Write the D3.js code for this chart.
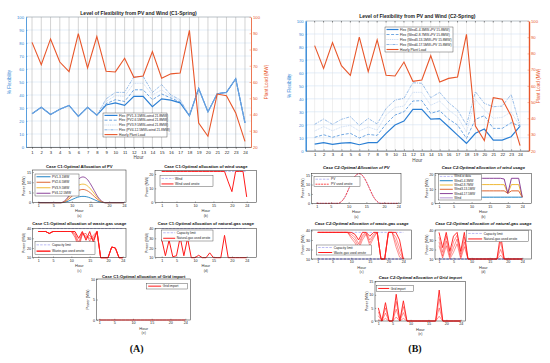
<!DOCTYPE html>
<html>
<head>
<meta charset="utf-8">
<script src="https://cdn.jsdelivr.net/npm/d3@7"></script>
<style>
body { margin: 0; background: #fff; }
svg { display: block; font-family: "Liberation Sans", Arial, sans-serif; }
</style>
</head>
<body>
<svg width="550" height="363"></svg>
<script>
// ---- data ----
const hours = [1,2,3,4,5,6,7,8,9,10,11,12,13,14,15,16,17,18,19,20,21,22,23,24];
const hourTicks = [1,5,10,15,20,24];
const flexTicks = [0,10,20,30,40,50,60,70,80,90,100];
const loadTicks = [20,30,40,50,60,70,80,90,100];

// C1 flexibility (% ) and plant load (MW)
const flexC1_pv1 = [25.6,30.5,25,29,32,23.6,30.5,24.4,32.3,34,32,39,39,31,37,36,34,24,45,27,41,42,52.5,18.5];
const flexC1_pv2 = [25.6,30.5,25,29,32,23.6,30.5,24.4,33.3,36.4,35,44,44,36.4,40.8,37.7,34.6,24,45,27,41,42,52.5,18.5];
const flexC1_pv3 = [25.6,30.5,25,29,32,23.6,30.5,24.4,35,39.5,39,49,49,40,44,39,35.6,24,45,27,41,42,52.5,18.5];
const flexC1_pv4 = [25.6,30.5,25,29,32,23.6,30.5,24.4,37,42,42,54,54.4,42,48,40,36.4,24,45,27,41,42,52.5,18.5];
const loadC1 = [84.4,70.7,86.5,72.3,66.4,89.7,68.6,88,66.6,66.2,74.6,62.9,63.7,78.7,62.3,65,65.5,91.8,34.8,26.6,52.6,51.6,41,23.5];

// C2 flexibility and plant load
const flexC2_w1 = [5.1,6.2,4.9,5.9,6.2,4.6,6.2,6.2,13.4,19.8,22.9,31.9,31.9,24.4,24.7,18.5,12,5.7,13.4,16.7,8.2,8.2,10.8,19];
const flexC2_w2 = [10.3,12.3,10.3,12.3,13.4,9.8,12.6,11.8,20.6,27.5,30,38.3,38.6,28.8,30.8,24.4,19.8,9.5,24.2,27,17.2,17.2,21.6,19];
const flexC2_w3 = [15.2,18.5,15.4,18.3,19.5,15.2,18.3,15.9,27.5,33.4,34.4,45,45,35,38.3,31.4,26.2,14.4,39.6,31.4,25,25.7,30,18.5];
const flexC2_w4 = [20.3,24.4,20.3,24.2,26.2,19.5,24.9,20.6,32.6,39,40.4,52.4,52,40.9,45,37,31.4,19.8,45.5,36.5,33.9,34.4,43.4,19];
const loadC2 = [84.8,70.8,86.7,72.5,66.5,90,68.8,88.3,66.5,66.1,74.7,62.8,63.6,78.6,62.4,64.6,65.5,91.8,35.2,26.2,52.7,51.7,41.4,23.1];

// C1 sub-panels (MW)
const pvC1_1 = [0,0,0,0,0,0,0,0.2,0.7,1.5,2.3,2.9,3.1,2.9,2.3,1.5,0.7,0.2,0,0,0,0,0,0];
const pvC1_2 = [0,0,0,0,0,0,0,0.4,1.5,3.1,4.8,6.1,6.5,6.0,4.8,3.1,1.5,0.4,0,0,0,0,0,0];
const pvC1_3 = [0,0,0,0,0,0,0,0.6,2.1,4.5,6.9,8.7,9.1,8.5,6.8,4.5,2.1,0.6,0,0,0,0,0,0];
const pvC1_4 = [0,0,0,0,0,0,0,0.8,2.8,6.0,9.3,11.8,12.6,11.7,9.2,6.0,2.8,0.8,0,0,0,0,0,0];
const windC1 = [21.8,21.8,21.8,21.8,21.8,21.8,21.8,21.8,21.8,21.8,21.8,21.8,21.8,21.8,21.8,21.8,21.8,21.8,21.8,21.8,21.8,21.8,21.8,21.8];
const windUsedC1 = [21.8,21.8,21.8,21.8,21.8,21.8,21.8,21.8,21.8,21.8,21.8,21.8,21.8,21.8,21.8,21.8,21.8,21.8,14.5,7.7,21.8,21.8,21.8,4];
const wasteCapC1 = [40,40,40,40,40,40,40,40,40,40,40,40,40,40,40,40,40,40,40,40,40,40,40,40];
const wasteC1_1 = [37,37,37,35,37,37,37,37,37,37,37,30,37,28,37,26,37,10,10,10,21,20,10,10];
const wasteC1_2 = [37,37,37,35,37,37,37,37,37,37,35,26,36,30,33,28,37,10,10,10,21,20,10,10];
const wasteC1_3 = [37,37,37,35,37,37,37,37,37,37,33,23,35,32,30,30,37,10,10,10,21,20,10,10];
const wasteC1_4 = [37,37,37,35,37,37,37,37,37,37,31,20,34,35,27,33,37,10,10,10,21,20,10,10];
const gasCapC1 = [40,40,40,40,40,40,40,40,40,40,40,40,40,40,40,40,40,40,40,40,40,40,40,40];
const gasC1 = [29,12,28,11,12,31,12,30,10,10,12.5,10,10,15,10,10,10,33,10,10,10,10,10,10];
const gridC1 = [0,0,0,0,0,0,0,0,0,0,0,0,0,0,0,0,0,0,0,0,0,0,0,0];

// C2 sub-panels (MW)
const pvC2 = [0,0,0,0,0,0,0,1.0,3.5,7.6,11.8,14.9,15.8,14.6,11.5,7.4,3.5,1.0,0,0,0,0,0,0];
const pvUsedC2 = [0,0,0,0,0,0,0,1.0,3.5,7.6,11.8,14.9,15.8,14.6,11.5,7.4,3.5,1.0,0,0,0,0,0,0];
const windC2_1 = [4.3,4.3,4.3,4.3,4.3,4.3,4.3,4.3,4.3,4.3,4.3,4.3,4.3,4.3,4.3,4.3,4.3,4.3,4.3,4.3,4.3,4.3,4.3,4.3];
const windC2_2 = [8.7,8.7,8.7,8.7,8.7,8.7,8.7,8.7,8.7,8.7,8.7,8.7,8.7,8.7,8.7,8.7,8.7,8.7,8.7,7,8.7,8.7,8.7,4.3];
const windC2_3 = [13.1,13.1,13.1,13.1,13.1,13.1,13.1,13.1,13.1,13.1,13.1,13.1,13.1,13.1,13.1,13.1,13.1,13.1,13,7,13.1,13.1,13.1,4.3];
const windC2_4 = [17.5,17.5,17.5,17.5,17.5,17.5,17.5,17.5,17.5,17.5,17.5,17.5,17.5,17.5,17.5,17.5,17.5,17.5,17,7,17.5,17.5,17.5,4.3];
const wasteCapC2 = [38,38,38,38,38,38,38,38,38,38,38,38,38,38,38,38,38,38,38,38,38,38,38,38];
const wasteMinC2 = [10,10,10,10,10,10,10,10,10,10,10,10,10,10,10,10,10,10,10,10,10,10,10,10];
const wasteC2_1 = [38,38,38,38,38,38,38,38,38,38,36,30,38,38,34,38,38,10,10,38,38,38,30,10];
const wasteC2_2 = [38,38,38,38,38,38,38,38,38,36,33,26,35,38,30,36,38,10,10,38,38,33,22,10];
const wasteC2_3 = [38,38,38,38,38,38,38,38,38,34,30,23,33,37,27,34,38,10,10,38,38,28,16,10];
const wasteC2_4 = [38,38,38,38,38,38,38,38,38,32,27,20,30,36,24,32,38,10,10,38,38,23,12,10];
const gasC2_1 = [38,22,38,18,34,38,18,38,10,10,10,10,10,10,10,10,10,36,10,10,10,10,10,10];
const gasC2_2 = [33,17,34,14,28,35,15,33,10,10,10,10,10,10,10,10,10,28,10,10,10,10,10,10];
const gasC2_3 = [28,13,29,12,22,31,12,28,10,10,10,10,10,10,10,10,10,20,10,10,10,10,10,10];
const gasC2_4 = [24,11,24,10,17,26,10,23,10,10,10,10,10,10,10,10,10,14,10,10,10,10,10,10];
const gridC2_1 = [5,0,7,0,0,10.2,0,7.7,0,0,0,0,0,0,0,0,0,11.8,0,0,0,0,0,0];
const gridC2_2 = [3.5,0,5,0,0,7.5,0,5.5,0,0,0,0,0,0,0,0,0,8.5,0,0,0,0,0,0];
const gridC2_3 = [2,0,3,0,0,4.5,0,3.2,0,0,0,0,0,0,0,0,0,5,0,0,0,0,0,0];
const gridC2_4 = [0.5,0,1,0,0,1.5,0,1,0,0,0,0,0,0,0,0,0,1.8,0,0,0,0,0,0];

// ---- colours ----
const BLUE = '#2f86d6', ORANGE = '#e8562a', RED = '#ff1a1a', LAV = '#a9a9f0';
const C_BLUE = '#0072bd', C_ORANGE = '#d95319', C_YELLOW = '#edb120', C_PURPLE = '#7e2f8e';

const svg = d3.select('svg');

function legend(g, L) {
  g.append('rect').attr('x', L.x).attr('y', L.y).attr('width', L.w).attr('height', L.h)
    .attr('fill', '#fff').attr('stroke', '#333').attr('stroke-width', 0.4);
  const rh = L.h / L.items.length;
  L.items.forEach((it, i) => {
    const cy = L.y + rh * (i + 0.5);
    g.append('line').attr('x1', L.x + 1.5).attr('x2', L.x + 1.5 + L.len).attr('y1', cy).attr('y2', cy)
      .attr('stroke', it.color).attr('stroke-width', it.width || 0.8).attr('stroke-dasharray', it.dash || null);
    g.append('text').attr('x', L.x + 3 + L.len).attr('y', cy).attr('dy', '0.35em')
      .attr('font-size', L.fs).attr('fill', '#222').text(it.label);
  });
}

function styleAxis(a, fs, col) {
  a.attr('font-size', null).attr('font-family', null);
  a.selectAll('text').attr('font-size', fs).attr('fill', col);
  a.selectAll('line').attr('stroke', col).attr('stroke-width', 0.4);
}

// ---- big flexibility charts ----
function mainChart(o) {
  const g = svg.append('g');
  const x = d3.scaleLinear().domain(o.xd).range([o.l, o.r]);
  const yL = d3.scaleLinear().domain([0, 100]).range([o.b, o.t]);
  const yR = d3.scaleLinear().domain([20, 100]).range([o.b, o.t]);

  g.selectAll('.hg').data(flexTicks).join('line')
    .attr('x1', o.l).attr('x2', o.r).attr('y1', d => yL(d)).attr('y2', d => yL(d))
    .attr('stroke', '#c9ddf2').attr('stroke-width', 0.5);
  g.selectAll('.vg').data(hours).join('line')
    .attr('x1', d => x(d)).attr('x2', d => x(d)).attr('y1', o.t).attr('y2', o.b)
    .attr('stroke', o.vgrid).attr('stroke-width', 0.5);
  g.append('line').attr('x1', o.l).attr('x2', o.r).attr('y1', o.t).attr('y2', o.t).attr('stroke', '#999').attr('stroke-width', 0.5);

  const line = ys => d3.line().x((d, i) => x(hours[i])).y(d => ys(d));
  o.flex.forEach(s => {
    g.append('path').datum(s.data).attr('d', line(yL)).attr('fill', 'none')
      .attr('stroke', s.color).attr('stroke-width', s.width).attr('stroke-dasharray', s.dash || null);
  });
  g.append('path').datum(o.load).attr('d', line(yR)).attr('fill', 'none')
    .attr('stroke', ORANGE).attr('stroke-width', 1.1);

  const ax = g.append('g').attr('transform', `translate(0,${o.b})`)
    .call(d3.axisBottom(x).tickValues(hours).tickSizeInner(o.tickIn ? -1.5 : 2).tickSizeOuter(0).tickPadding(2.5));
  ax.select('.domain').attr('stroke', '#222').attr('stroke-width', 0.6);
  styleAxis(ax, 4.2, '#222');
  if (o.topTicks) {
    g.selectAll('.tt').data(hours).join('line')
      .attr('x1', d => x(d)).attr('x2', d => x(d)).attr('y1', o.t).attr('y2', o.t + 1.5)
      .attr('stroke', '#222').attr('stroke-width', 0.5);
  }
  const al = g.append('g').attr('transform', `translate(${o.l},0)`)
    .call(d3.axisLeft(yL).tickValues(flexTicks).tickSizeInner(-1.5).tickSizeOuter(0).tickPadding(2));
  al.select('.domain').attr('stroke', BLUE).attr('stroke-width', o.axisW);
  styleAxis(al, 4.2, BLUE);
  const ar = g.append('g').attr('transform', `translate(${o.r},0)`)
    .call(d3.axisRight(yR).tickValues(loadTicks).tickSizeInner(-1.5).tickSizeOuter(0).tickPadding(2));
  ar.select('.domain').attr('stroke', ORANGE).attr('stroke-width', o.axisW);
  styleAxis(ar, 4.2, ORANGE);

  g.append('text').attr('x', (o.l + o.r) / 2).attr('y', o.titleY).attr('text-anchor', 'middle')
    .attr('font-size', 5).attr('font-weight', 'bold').attr('fill', '#222').text(o.title);
  g.append('text').attr('transform', `translate(${o.lblL},${(o.t + o.b) / 2}) rotate(-90)`)
    .attr('text-anchor', 'middle').attr('font-size', 4.6).attr('fill', BLUE).text('% Flexibility');
  g.append('text').attr('transform', `translate(${o.lblR},${(o.t + o.b) / 2}) rotate(-90)`)
    .attr('text-anchor', 'middle').attr('font-size', 4.6).attr('fill', ORANGE).text('Plant Load (MW)');
  g.append('text').attr('x', (o.l + o.r) / 2).attr('y', o.hourY).attr('text-anchor', 'middle')
    .attr('font-size', 4.6).attr('fill', '#444').text('Hour');
  legend(g, o.legend);
}

const flexStyles = [
  { color: '#2b7fd4', width: 1.2, dash: null },
  { color: '#4f93dc', width: 0.8, dash: '3,1.6' },
  { color: '#b3cdef', width: 0.7, dash: '1,0.8' },
  { color: '#6ea2de', width: 0.7, dash: '3,1,1,1' }
];

mainChart({
  l: 26, r: 251, t: 17, b: 147, xd: [0.35, 24.65], vgrid: '#a8a8a8', axisW: 0.8, tickIn: false,
  title: 'Level of Flexibility from PV and Wind (C1-Spring)', titleY: 14.5, lblL: 11, lblR: 268, hourY: 158.5,
  flex: [flexC1_pv1, flexC1_pv2, flexC1_pv3, flexC1_pv4].map((d, i) => Object.assign({ data: d }, flexStyles[i])),
  load: loadC1,
  legend: { x: 103, y: 113, w: 64, h: 24, len: 13, fs: 3.3, items: [
    { label: 'Flex (PV1-3.1MW+wind 21.8MW)', color: '#2b7fd4', width: 1.2 },
    { label: 'Flex (PV2-6.5MW+wind 21.8MW)', color: '#4f93dc', dash: '3,1.6' },
    { label: 'Flex (PV3-9.5MW+wind 21.8MW)', color: '#b3cdef', dash: '1,0.8' },
    { label: 'Flex (PV4-12.5MW+wind 21.8MW)', color: '#6ea2de', dash: '3,1,1,1' },
    { label: 'Hourly Plant Load', color: ORANGE, width: 1.1 }
  ] }
});

mainChart({
  l: 305.7, r: 529, t: 21, b: 150.7, xd: [0, 25], vgrid: '#dedede', axisW: 1.4, tickIn: true, topTicks: true,
  title: 'Level of Flexibility from PV and Wind (C2-Spring)', titleY: 18, lblL: 291, lblR: 540, hourY: 161.5,
  flex: [flexC2_w1, flexC2_w2, flexC2_w3, flexC2_w4].map((d, i) => Object.assign({ data: d }, flexStyles[i])),
  load: loadC2,
  legend: { x: 385, y: 27, w: 68, h: 25, len: 12, fs: 3.3, items: [
    { label: 'Flex (Wind1-4.3MW+PV 15.8MW)', color: '#2b7fd4', width: 1.2 },
    { label: 'Flex (Wind2-8.7MW+PV 15.8MW)', color: '#4f93dc', dash: '3,1.6' },
    { label: 'Flex (Wind3-13.1MW+PV 15.8MW)', color: '#b3cdef', dash: '1,0.8' },
    { label: 'Flex (Wind4-17.5MW+PV 15.8MW)', color: '#6ea2de', dash: '3,1,1,1' },
    { label: 'Hourly Plant Load', color: ORANGE, width: 1.1 }
  ] }
});

// ---- small allocation panels ----
function subplot(p) {
  const g = svg.append('g');
  const x = d3.scaleLinear().domain([1, 24]).range([p.h1, p.h24]);
  const y = d3.scaleLinear().domain(p.yd).range([p.y1, p.y0]);

  const ax = g.append('g').attr('transform', `translate(0,${p.y1})`)
    .call(d3.axisBottom(x).tickValues(hourTicks).tickSizeInner(-1.2).tickSizeOuter(0).tickPadding(1.6));
  ax.select('.domain').remove();
  styleAxis(ax, 3.7, '#222');
  const ay = g.append('g').attr('transform', `translate(${p.x0},0)`)
    .call(d3.axisLeft(y).tickValues(p.yt).tickSizeInner(-1.2).tickSizeOuter(0).tickPadding(1.6));
  ay.select('.domain').remove();
  styleAxis(ay, 3.7, '#222');

  p.series.forEach(s => {
    g.append('path').datum(s.data)
      .attr('d', d3.line().x((d, i) => x(hours[i])).y(d => y(d)).curve(s.curve || d3.curveLinear))
      .attr('fill', 'none').attr('stroke', s.color).attr('stroke-width', s.width || 0.8)
      .attr('stroke-dasharray', s.dash || null).attr('stroke-opacity', s.op || 1);
  });

  g.append('rect').attr('x', p.x0).attr('y', p.y0).attr('width', p.x1 - p.x0).attr('height', p.y1 - p.y0)
    .attr('fill', 'none').attr('stroke', '#222').attr('stroke-width', 0.5);
  g.append('text').attr('x', (p.x0 + p.x1) / 2).attr('y', p.ty).attr('text-anchor', 'middle')
    .attr('font-size', 4.2).attr('font-weight', 'bold').attr('font-style', p.italic ? 'italic' : null)
    .attr('fill', '#111').text(p.title);
  g.append('text').attr('transform', `translate(${p.x0 - 7.5},${(p.y0 + p.y1) / 2}) rotate(-90)`)
    .attr('text-anchor', 'middle').attr('font-size', 3.6).attr('fill', '#333').text('Power (MW)');
  g.append('text').attr('x', (p.x0 + p.x1) / 2).attr('y', p.y1 + 9.5).attr('text-anchor', 'middle')
    .attr('font-size', 4).attr('fill', '#333').text('Hour');
  g.append('text').attr('x', (p.x0 + p.x1) / 2).attr('y', p.y1 + 14.2).attr('text-anchor', 'middle')
    .attr('font-size', 3.6).attr('fill', '#444').text(p.tag);
  if (p.legend) legend(g, p.legend);
}

const smooth = d3.curveMonotoneX;

// Case C1
subplot({
  x0: 32.7, x1: 126, y0: 170, y1: 202.7, h1: 38.3, h24: 124, yd: [0, 16], yt: [0, 5, 10, 15], ty: 167.5,
  title: 'Case C1:Optimal Allocation of PV', tag: '(a)',
  series: [
    { data: pvC1_1, color: C_BLUE, curve: smooth },
    { data: pvC1_2, color: C_ORANGE, curve: smooth },
    { data: pvC1_3, color: C_YELLOW, curve: smooth },
    { data: pvC1_4, color: C_PURPLE, curve: smooth }
  ],
  legend: { x: 35, y: 174, w: 44, h: 22, len: 14, fs: 3.2, items: [
    { label: 'PV1-3.1MW', color: C_BLUE, width: 0.9 }, { label: 'PV2-6.5MW', color: C_ORANGE, width: 0.9 },
    { label: 'PV3-9.5MW', color: C_YELLOW, width: 0.9 }, { label: 'PV4-12.5MW', color: C_PURPLE, width: 0.9 }
  ] }
});
subplot({
  x0: 155, x1: 256.7, y0: 170.7, y1: 202.7, h1: 161.7, h24: 246.7, yd: [0, 22.3], yt: [0, 10, 20], ty: 167.5,
  title: 'Case C1:Optimal allocation of wind usage', tag: '(b)',
  series: [
    { data: windC1, color: LAV, dash: '2.5,1.2', width: 0.8 },
    { data: windUsedC1, color: RED, width: 1 }
  ],
  legend: { x: 160, y: 175.7, w: 53, h: 11, len: 12, fs: 3.2, items: [
    { label: 'Wind', color: LAV, dash: '2.5,1.2' }, { label: 'Wind used onsite', color: RED, width: 1 }
  ] }
});
subplot({
  x0: 32.7, x1: 126, y0: 228.3, y1: 257.7, h1: 38.3, h24: 122.7, yd: [10, 40.3], yt: [10, 20, 30, 40], ty: 224.5,
  title: 'Case C1:Optimal allocation of waste-gas usage', tag: '(c)',
  series: [
    { data: wasteCapC1, color: LAV, dash: '2.5,1.2' },
    { data: wasteC1_4, color: RED, width: 0.7, op: 0.8 },
    { data: wasteC1_3, color: RED, width: 0.7, op: 0.8 },
    { data: wasteC1_2, color: RED, width: 0.7, op: 0.8 },
    { data: wasteC1_1, color: RED, width: 1 }
  ],
  legend: { x: 35, y: 241.7, w: 60, h: 12.6, len: 14, fs: 3.2, items: [
    { label: 'Capacity limit', color: LAV, dash: '2.5,1.2' }, { label: 'Waste-gas used onsite', color: RED, width: 1.4 }
  ] }
});
subplot({
  x0: 155, x1: 256.7, y0: 228.3, y1: 257.7, h1: 161.7, h24: 246.7, yd: [10, 40.3], yt: [10, 20, 30, 40], ty: 224.5,
  title: 'Case C1:Optimal allocation of natural-gas usage', tag: '(d)',
  series: [
    { data: gasCapC1, color: LAV, dash: '2.5,1.2' },
    { data: gasC1, color: RED, width: 1 }
  ],
  legend: { x: 161.7, y: 230, w: 51.3, h: 11, len: 12, fs: 3.2, items: [
    { label: 'Capacity limit', color: LAV, dash: '2.5,1.2' }, { label: 'Natural-gas used onsite', color: RED, width: 1 }
  ] }
});
subplot({
  x0: 96.7, x1: 190.7, y0: 279, y1: 320, h1: 99.3, h24: 185.3, yd: [0, 10], yt: [0, 5, 10], ty: 277.5,
  title: 'Case C1:Optimal allocation of Grid import', tag: '(e)',
  series: [{ data: gridC1, color: RED, width: 1 }],
  legend: { x: 146.7, y: 283.3, w: 40.6, h: 5.7, len: 13, fs: 3.2, items: [
    { label: 'Grid import', color: RED, width: 1 }
  ] }
});

// Case C2
subplot({
  x0: 311.7, x1: 401, y0: 173.3, y1: 203.3, h1: 316.7, h24: 398.3, yd: [0, 16], yt: [0, 5, 10, 15], ty: 168.5, italic: true,
  title: 'Case C2:Optimal Allocation of PV', tag: '(a)',
  series: [
    { data: pvC2, color: LAV, dash: '2.5,1.2', curve: smooth },
    { data: pvUsedC2, color: RED, dash: '2,0.8', width: 0.8, curve: smooth }
  ],
  legend: { x: 314, y: 176.7, w: 46, h: 10, len: 14, fs: 3.2, items: [
    { label: 'PV', color: LAV, dash: '2.5,1.2' }, { label: 'PV used onsite', color: RED, dash: '2,0.8' }
  ] }
});
subplot({
  x0: 435, x1: 531.7, y0: 173.3, y1: 203.3, h1: 439, h24: 522.3, yd: [0, 21], yt: [0, 10, 20], ty: 168.5, italic: true,
  title: 'Case C2:Optimal allocation of wind usage', tag: '(b)',
  series: [
    { data: windC2_1, color: C_BLUE, width: 0.9 },
    { data: windC2_2, color: C_ORANGE, width: 0.9 },
    { data: windC2_3, color: C_YELLOW, width: 0.9 },
    { data: windC2_4, color: C_PURPLE, width: 0.9 }
  ],
  legend: { x: 438.3, y: 174.3, w: 43.4, h: 25.7, len: 13, fs: 3, items: [
    { label: 'Wind-w data', color: LAV, dash: '2.5,1.2' },
    { label: 'Wind1-4.3MW', color: C_BLUE, width: 0.9 },
    { label: 'Wind2-8.7MW', color: C_YELLOW, width: 0.9 },
    { label: 'Wind3-13.1MW', color: C_ORANGE, width: 0.9 },
    { label: 'Wind4-17.5MW', color: C_PURPLE, width: 0.9 },
    { label: 'Wind', color: '#b08ad0', width: 0.9 }
  ] }
});
subplot({
  x0: 311.7, x1: 411.7, y0: 230, y1: 259, h1: 317.7, h24: 403.3, yd: [10, 40.5], yt: [10, 20, 30, 40], ty: 225, italic: true,
  title: 'Case C2:Optimal allocation of waste-gas usage', tag: '(c)',
  series: [
    { data: wasteCapC2, color: LAV, dash: '2.5,1.2' },
    { data: wasteMinC2, color: '#4a4ae0', dash: '2.5,1.2' },
    { data: wasteC2_4, color: RED, width: 0.6, op: 0.8 },
    { data: wasteC2_3, color: RED, width: 0.6, op: 0.8 },
    { data: wasteC2_2, color: RED, width: 0.6, op: 0.8 },
    { data: wasteC2_1, color: RED, width: 0.9 }
  ],
  legend: { x: 316.7, y: 245, w: 55, h: 10, len: 14, fs: 3.2, items: [
    { label: 'Capacity limit', color: LAV, dash: '2.5,1.2' }, { label: 'Waste-gas used onsite', color: RED, width: 1 }
  ] }
});
subplot({
  x0: 435, x1: 531.7, y0: 230, y1: 259, h1: 439, h24: 522.3, yd: [10, 40.5], yt: [10, 20, 30, 40], ty: 225, italic: true,
  title: 'Case C2:Optimal allocation of natural-gas usage', tag: '(d)',
  series: [
    { data: wasteMinC2, color: '#4a4ae0', dash: '2.5,1.2' },
    { data: gasC2_4, color: RED, width: 0.6, op: 0.8 },
    { data: gasC2_3, color: RED, width: 0.6, op: 0.8 },
    { data: gasC2_2, color: RED, width: 0.6, op: 0.8 },
    { data: gasC2_1, color: RED, width: 0.9 }
  ],
  legend: { x: 466.7, y: 230.7, w: 61.6, h: 11, len: 14, fs: 3.2, items: [
    { label: 'Capacity limit', color: LAV, dash: '2.5,1.2' }, { label: 'Natural-gas used onsite', color: RED, width: 1 }
  ] }
});
subplot({
  x0: 375, x1: 465.7, y0: 281.7, y1: 321, h1: 378.3, h24: 460.7, yd: [0, 15], yt: [0, 5, 10, 15], ty: 279, italic: true,
  title: 'Case C2:Optimal allocation of Grid import', tag: '(e)',
  series: [
    { data: gridC2_4, color: RED, width: 0.6, op: 0.8 },
    { data: gridC2_3, color: RED, width: 0.6, op: 0.8 },
    { data: gridC2_2, color: RED, width: 0.6, op: 0.8 },
    { data: gridC2_1, color: RED, width: 0.9 }
  ],
  legend: { x: 376.7, y: 285.7, w: 36.6, h: 5.5, len: 11, fs: 3, items: [
    { label: 'Grid import', color: RED, width: 1 }
  ] }
});

// panel letters
svg.append('text').attr('x', 136.7).attr('y', 352).attr('text-anchor', 'middle')
  .attr('font-family', '"Liberation Serif", "Times New Roman", serif').attr('font-weight', 'bold')
  .attr('font-size', 10).attr('fill', '#111').text('(A)');
svg.append('text').attr('x', 415).attr('y', 352).attr('text-anchor', 'middle')
  .attr('font-family', '"Liberation Serif", "Times New Roman", serif').attr('font-weight', 'bold')
  .attr('font-size', 10).attr('fill', '#111').text('(B)');
</script>
</body>
</html>
